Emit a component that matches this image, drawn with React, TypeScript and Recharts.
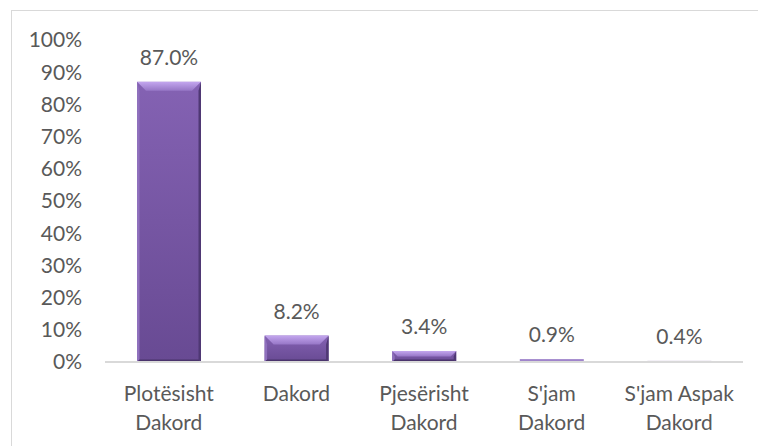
import React from "react";
import { BarChart, Bar, XAxis, YAxis, LabelList } from "recharts";

const categories = [
  "Plotësisht Dakord",
  "Dakord",
  "Pjesërisht Dakord",
  "S'jam Dakord",
  "S'jam Aspak Dakord",
];
const values = [87.0, 8.2, 3.4, 0.9, 0.4];
const yTicks = [0, 10, 20, 30, 40, 50, 60, 70, 80, 90, 100];

const data = categories.map((c, i) => ({ name: c, value: values[i] }));

const FONT = "Lato, 'Open Sans', sans-serif";
const TEXT = "#595959";
const FS = 21;

const BevelBar = (props: any) => {
  const { x, y, width: w, height: h } = props;
  if (h == null || h <= 0) return null;
  if (h < 2) {
    return <rect x={x} y={y} width={w} height={h} fill="#d8d0e4" />;
  }
  if (h < 4) {
    return <rect x={x} y={y} width={w} height={h} fill="#9f84cb" />;
  }
  const b = Math.min(9, h / 2);
  const s = Math.min(2.5, h / 3);
  return (
    <g>
      <rect x={x} y={y} width={w} height={h} fill="url(#faceGrad)" />
      <polygon
        points={`${x},${y} ${x + s},${y + b} ${x + s},${y + h - s} ${x},${y + h}`}
        fill="#8f70bd"
      />
      <polygon
        points={`${x + w},${y} ${x + w - s},${y + b} ${x + w - s},${y + h - s} ${x + w},${y + h}`}
        fill="#4f3874"
      />
      <polygon
        points={`${x},${y} ${x + w},${y} ${x + w - b},${y + b} ${x + b},${y + b}`}
        fill="url(#topGrad)"
      />
      <polygon
        points={`${x},${y + h} ${x + s},${y + h - s} ${x + w - s},${y + h - s} ${x + w},${y + h}`}
        fill="#4a346c"
      />
    </g>
  );
};

const CategoryTick = (props: any) => {
  const { x, y, payload } = props;
  const label: string = payload.value;
  const idx = label.lastIndexOf(" ");
  const lines = idx > 0 ? [label.slice(0, idx), label.slice(idx + 1)] : [label];
  return (
    <text
      x={x}
      y={y}
      textAnchor="middle"
      fill={TEXT}
      fontFamily={FONT}
      fontSize={FS}
    >
      {lines.map((l, i) => (
        <tspan key={i} x={x} dy={i === 0 ? 39 : 29}>
          {l}
        </tspan>
      ))}
    </text>
  );
};

export default function App() {
  return (
    <div
      style={{
        position: "absolute",
        left: 0,
        top: 0,
        width: 758,
        height: 446,
        background: "#ffffff",
        overflow: "hidden",
      }}
    >
      <div
        style={{
          position: "absolute",
          left: 11,
          top: 10,
          width: 760,
          height: 450,
          borderTop: "1px solid #d9d9d9",
          borderLeft: "1px solid #d9d9d9",
        }}
      />
      <div style={{ position: "absolute", left: 0, top: 0 }}>
        <BarChart
          width={758}
          height={446}
          data={data}
          margin={{ top: 40, right: 15, bottom: 0, left: 0 }}
        >
          <defs>
            <linearGradient id="faceGrad" x1="0" y1="0" x2="0" y2="1">
              <stop offset="0%" stopColor="#8462b3" />
              <stop offset="100%" stopColor="#684a93" />
            </linearGradient>
            <linearGradient id="topGrad" x1="0" y1="0" x2="0" y2="1">
              <stop offset="0%" stopColor="#c3a6ee" />
              <stop offset="100%" stopColor="#9676c6" />
            </linearGradient>
          </defs>
          <XAxis
            dataKey="name"
            height={84}
            interval={0}
            tickLine={false}
            tickSize={0}
            tickMargin={0}
            axisLine={{ stroke: "#d9d9d9", strokeWidth: 2 }}
            tick={<CategoryTick />}
          />
          <YAxis
            width={105}
            domain={[0, 100]}
            ticks={yTicks}
            interval={0}
            axisLine={false}
            tickLine={false}
            tickSize={0}
            tickMargin={23}
            tickFormatter={(v: number) => `${v}%`}
            tick={{ fill: TEXT, fontFamily: FONT, fontSize: FS }}
          />
          <Bar
            dataKey="value"
            barSize={64}
            shape={<BevelBar />}
            isAnimationActive={false}
          >
            <LabelList
              dataKey="value"
              position="top"
              offset={17}
              formatter={(v: number) => `${v.toFixed(1)}%`}
              fill={TEXT}
              fontFamily={FONT}
              fontSize={FS}
            />
          </Bar>
        </BarChart>
      </div>
    </div>
  );
}
